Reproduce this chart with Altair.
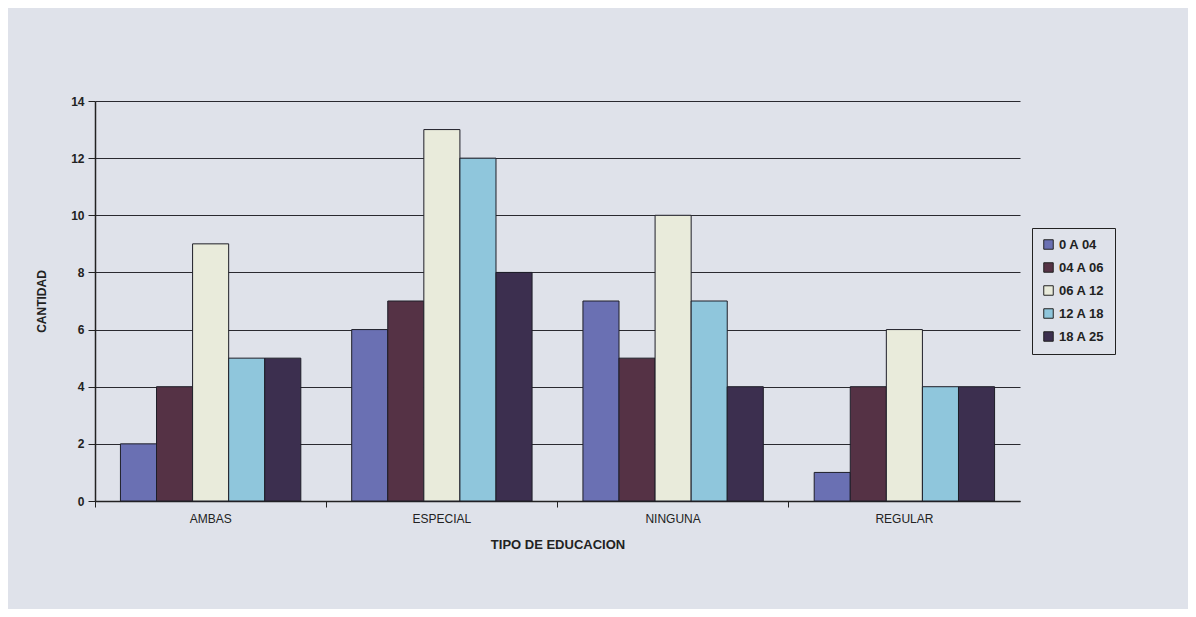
import altair as alt
import pandas as pd

categories = ["AMBAS", "ESPECIAL", "NINGUNA", "REGULAR"]
series = ["0 A 04", "04 A 06", "06 A 12", "12 A 18", "18 A 25"]
v_0_04 = [2, 6, 7, 1]
v_04_06 = [4, 7, 5, 4]
v_06_12 = [9, 13, 10, 6]
v_12_18 = [5, 12, 7, 4]
v_18_25 = [5, 8, 4, 4]
colors = ["#6a70b3", "#553245", "#e9ebdb", "#8fc6dc", "#3c2f4f"]

rows = []
for s, vals in zip(series, [v_0_04, v_04_06, v_06_12, v_12_18, v_18_25]):
    for c, v in zip(categories, vals):
        rows.append({"tipo": c, "edad": s, "cantidad": v})
df = pd.DataFrame(rows)
cat_df = pd.DataFrame({"tipo": categories})

font = "Liberation Sans"
xscale = alt.Scale(domain=categories, paddingInner=0.22, paddingOuter=0.11)

bars = alt.Chart(df).mark_bar(stroke="#1e1e28", strokeWidth=1).encode(
    x=alt.X("tipo:N", scale=xscale, sort=categories,
            axis=alt.Axis(title="TIPO DE EDUCACION", labelAngle=0, ticks=False,
                          labelFont=font, labelFontSize=12,
                          labelColor="#222", labelPadding=12,
                          titleFont=font, titleFontSize=13, titleFontWeight="bold",
                          titleColor="#222", titlePadding=14,
                          domainColor="#222", domainWidth=1.5)),
    xOffset=alt.XOffset("edad:N", sort=series),
    y=alt.Y("cantidad:Q", scale=alt.Scale(domain=[0, 14]),
            axis=alt.Axis(title="CANTIDAD", values=[0, 2, 4, 6, 8, 10, 12, 14],
                          labelFont=font, labelFontSize=12, labelFontWeight="bold",
                          labelColor="#222", labelPadding=4, tickSize=7,
                          tickColor="#222", domainColor="#222", domainWidth=1.5,
                          grid=True, gridColor="#2a2a30", gridWidth=1.2,
                          titleFont=font, titleFontSize=12, titleFontWeight="bold",
                          titleColor="#222", titlePadding=22)),
    color=alt.Color("edad:N", sort=series,
                    scale=alt.Scale(domain=series, range=colors),
                    legend=alt.Legend(title=None, orient="none", legendX=937, legendY=127,
                                      symbolType="square", symbolSize=90,
                                      symbolStrokeColor="#222", symbolStrokeWidth=1,
                                      labelFont=font, labelFontSize=13,
                                      labelFontWeight="bold", labelColor="#222",
                                      rowPadding=8, padding=10,
                                      strokeColor="#222", fillColor="#dfe2ea")),
)

ticks = alt.Chart(cat_df).mark_bar(opacity=0).encode(
    x=alt.X("tipo:N", sort=categories,
            scale=alt.Scale(domain=categories, paddingInner=0, paddingOuter=0),
            axis=alt.Axis(title=None, labels=False, orient="bottom", bandPosition=0,
                          tickSize=6, tickColor="#222", domain=False, grid=False)),
)

chart = alt.layer(bars, ticks).resolve_scale(x="independent").resolve_axis(x="independent").properties(
    width=925, height=400,
    autosize=alt.AutoSizeParams(type="none"),
    padding={"left": 87, "top": 93, "right": 168, "bottom": 108},
    background="#dfe2ea",
).configure_view(stroke=None)

chart.save("out.html", embed_options={"renderer": "svg", "actions": False})
